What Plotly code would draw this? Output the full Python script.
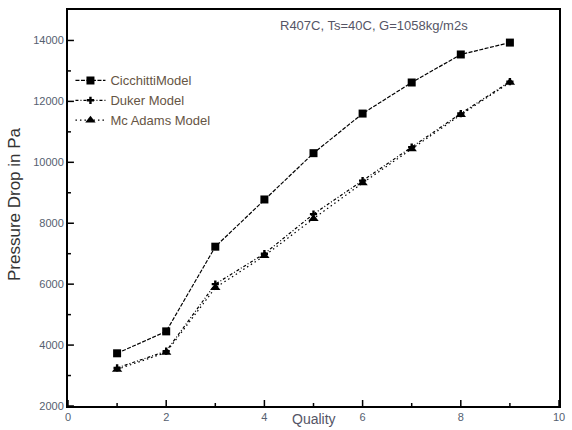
import plotly.graph_objects as go

quality = [1, 2, 3, 4, 5, 6, 7, 8, 9]
cicchitti = [3730, 4450, 7230, 8780, 10300, 11600, 12620, 13540, 13930]
duker = [3250, 3800, 6000, 7000, 8300, 9400, 10500, 11600, 12650]
mcadams = [3200, 3760, 5880, 6930, 8150, 9320, 10440, 11560, 12620]
y_ticks = [2000, 4000, 6000, 8000, 10000, 12000, 14000]
y_ticktext = ["2000", "4000", "6000", "8000", "10000", "12000", "14000"]
y_minor = [3000, 5000, 7000, 9000, 11000, 13000]
x_ticks = [0, 2, 4, 6, 8, 10]
x_minor = [1, 3, 5, 7, 9]

x_range = [0, 10]
y_range = [2000, 15000]
plot_w, plot_h = 572 - 68 - 7, 430 - 10 - 23
px_x = (x_range[1] - x_range[0]) / plot_w
px_y = (y_range[1] - y_range[0]) / plot_h

fig = go.Figure()
fig.add_trace(go.Scatter(x=quality, y=cicchitti, name="CicchittiModel",
                         mode="lines+markers",
                         line=dict(color="black", width=1.2, dash="4px,1.5px"),
                         marker=dict(symbol="square", size=8, color="black")))
fig.add_trace(go.Scatter(x=quality, y=duker, name="Duker Model",
                         mode="lines+markers",
                         line=dict(color="black", width=1.2, dash="3px,2px,1px,2px"),
                         marker=dict(symbol="cross", size=6, color="black")))
fig.add_trace(go.Scatter(x=quality, y=mcadams, name="Mc Adams Model",
                         mode="lines+markers",
                         line=dict(color="black", width=1.2, dash="1.5px,3px"),
                         marker=dict(symbol="triangle-up", size=9, color="black")))

# inside tick marks, derived from the tick arrays and axis ranges
tx, ty = [], []
for v in x_ticks + x_minor:
    ln = 6 if v in x_ticks else 3
    tx += [v, v, None]
    ty += [y_range[0], y_range[0] + ln * px_y, None]
for v in y_ticks + y_minor:
    ln = 6 if v in y_ticks else 3
    tx += [x_range[0], x_range[0] + ln * px_x, None]
    ty += [v, v, None]
fig.add_trace(go.Scatter(x=tx, y=ty, mode="lines", showlegend=False, hoverinfo="skip",
                         line=dict(color="black", width=1.5), cliponaxis=False))

tickfont = dict(family="Liberation Sans, Arial", size=11, color="#556070")

fig.update_layout(
    xaxis=dict(range=x_range, tickvals=x_ticks, showline=True, linecolor="black",
               linewidth=2, mirror=True, ticks="", showgrid=False, zeroline=False,
               tickfont=tickfont),
    yaxis=dict(range=y_range, tickvals=y_ticks, ticktext=y_ticktext,
               showline=True, linecolor="black", linewidth=2, mirror=True,
               ticks="", showgrid=False, zeroline=False, tickfont=tickfont),
    width=572, height=430,
    margin=dict(l=68, r=7, t=10, b=23),
    plot_bgcolor="white", paper_bgcolor="white",
    font=dict(family="Liberation Sans, Arial", color="#445"),
    showlegend=True,
    legend=dict(x=0.005, y=0.86, xanchor="left", yanchor="top",
                bgcolor="rgba(0,0,0,0)", font=dict(size=13, color="#665544"),
                tracegroupgap=0, itemwidth=30),
    annotations=[
        dict(text="R407C, Ts=40C, G=1058kg/m2s", x=0.624, y=0.962, xref="paper", yref="paper",
             xanchor="center", yanchor="middle", showarrow=False,
             font=dict(size=13, color="#556")),
        dict(text="Quality", x=0.5, y=-0.033, xref="paper", yref="paper",
             xanchor="center", yanchor="middle", showarrow=False,
             font=dict(size=14, color="#556")),
        dict(text="Pressure Drop in Pa", x=-0.11, y=0.51, xref="paper", yref="paper",
             xanchor="center", yanchor="middle", showarrow=False, textangle=-90,
             font=dict(size=17, color="#333")),
    ],
)

fig.write_html("out.html", post_script="document.body.style.margin='0';",
               config={"displayModeBar": False})
